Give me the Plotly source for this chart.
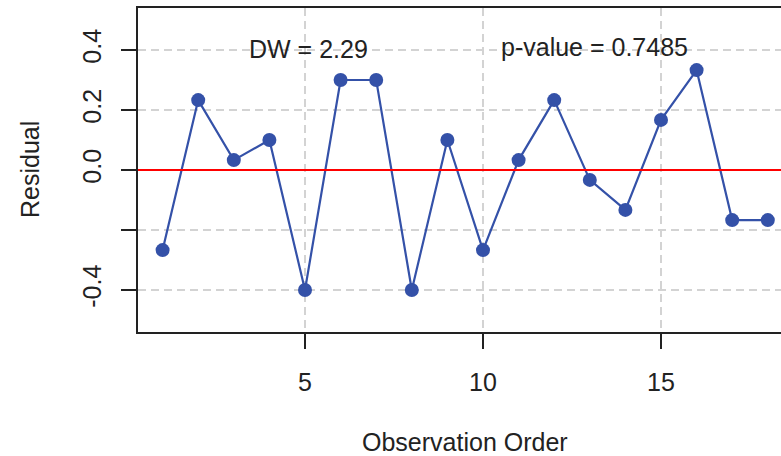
import plotly.graph_objects as go

order = list(range(1, 19))
residual = [-0.267, 0.233, 0.033, 0.100, -0.400, 0.300, 0.300, -0.400, 0.100,
            -0.267, 0.033, 0.233, -0.033, -0.133, 0.167, 0.333, -0.167, -0.167]
y_ticks = [-0.4, -0.2, 0.0, 0.2, 0.4]
y_ticktext = ["-0.4", "", "0.0", "0.2", "0.4"]
x_ticks = [5, 10, 15]
dw_text = "DW = 2.29"
p_text = "p-value = 0.7485"

FONT = "Liberation Sans, Arial, Helvetica, sans-serif"
BLUE = "#3451A8"
GRID = "#D3D3D3"

fig = go.Figure()
fig.add_trace(go.Scatter(
    x=order, y=residual, mode="lines+markers",
    line=dict(color=BLUE, width=2.2),
    marker=dict(color=BLUE, size=14),
    showlegend=False, cliponaxis=False,
))
fig.add_hline(y=0, line=dict(color="#FF0000", width=2), layer="above")

fig.add_annotation(x=5.1, y=0.405, text=dw_text, showarrow=False,
                   font=dict(family=FONT, size=25, color="#222222"))
fig.add_annotation(x=13.12, y=0.41, text=p_text, showarrow=False,
                   font=dict(family=FONT, size=25, color="#222222"))

fig.add_annotation(xref="paper", yref="paper", x=(30 - 138) / 643, y=0.5,
                   text="Residual", textangle=-90, showarrow=False,
                   xanchor="center", yanchor="middle",
                   font=dict(family=FONT, size=25, color="#222222"))
fig.add_annotation(xref="paper", yref="paper", x=(465 - 138) / 643, y=(332 - 442) / 324,
                   text="Observation Order", showarrow=False,
                   xanchor="center", yanchor="middle",
                   font=dict(family=FONT, size=25, color="#222222"))

fig.update_xaxes(
    range=[1 - (162.6 - 138) / 35.6, 1 + (781 - 162.6) / 35.6],
    tickvals=x_ticks, ticks="outside", ticklen=15, tickwidth=1.5,
    tickcolor="#222222", showline=True, linecolor="#222222", linewidth=2,
    mirror=True, showgrid=True, gridcolor=GRID, gridwidth=1.5,
    griddash="8px,5px", zeroline=False, ticklabelstandoff=12,
    tickfont=dict(family=FONT, size=25, color="#222222"),
)
fig.update_yaxes(
    range=[-0.54, 0.54], tickvals=y_ticks, ticktext=y_ticktext,
    tickangle=-90, ticks="outside", ticklen=15, tickwidth=1.5,
    tickcolor="#222222", showline=True, linecolor="#222222", linewidth=2,
    mirror=False, showgrid=True, gridcolor=GRID, gridwidth=1.5,
    griddash="8px,5px", zeroline=False, ticklabelstandoff=10,
    tickfont=dict(family=FONT, size=25, color="#222222"),
)
fig.update_layout(
    width=781, height=456,
    margin=dict(l=138, r=0, t=8, b=124),
    paper_bgcolor="white", plot_bgcolor="white",
)
fig.write_html("out.html")
